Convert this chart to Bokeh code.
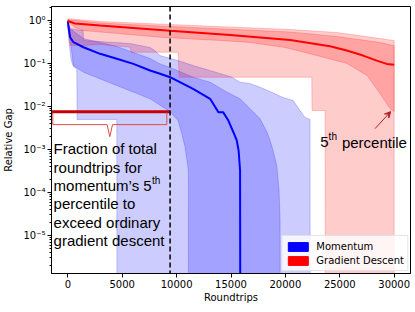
from bokeh.plotting import figure
from bokeh.models import (Range1d, FixedTicker, CustomJSTickFormatter, Legend, LegendItem,
                          Arrow, VeeHead, Span, ColumnDataSource)
from bokeh.core.properties import value
from bokeh.embed import file_html
from bokeh.resources import INLINE

FLOOR = 1e-12  # stands for "converged" (gap of zero on a log axis)

# ---------------- Momentum (blue) ----------------
mom_med_x = [0, 70, 160, 211, 515, 1434, 2968, 4503, 6029, 7563, 8482, 9401, 11515, 13078,
             13840, 14272, 14759, 15219, 15531, 15700, 15834, 15880]
mom_med_y = [0.95, 0.687, 0.499, 0.409, 0.313, 0.239, 0.168, 0.129, 0.098, 0.0687, 0.0576, 0.048,
             0.0258, 0.0151, 0.0074, 0.0074, 0.00472, 0.00252, 0.00162, 0.00095, 0.000325, FLOOR]

mom_p95_x = [0, 211, 671, 1434, 2968, 4503, 6029, 7563, 8482, 9401, 11515, 13078, 14640, 15834,
             16753, 17672, 18316, 18591, 18867, 19207, 19418, 19510, 19530]
mom_p95_y = [1.0, 0.641, 0.526, 0.381, 0.308, 0.249, 0.180, 0.131, 0.098, 0.0807, 0.048, 0.0367,
             0.0215, 0.0151, 0.00885, 0.00518, 0.00252, 0.00162, 0.00095, 0.000425, 0.000111,
             2.23e-5, FLOOR]

mom_p5_x = [0, 211, 515, 1434, 4503, 7563, 9401, 10137, 10477, 10780, 11083, 11101, 19530]
mom_p5_y = [1.0, 0.375, 0.0898, 0.0628, 0.0308, 0.0151, 0.0076, 0.00472, 0.00236, 0.00113,
            0.000325, FLOOR, FLOOR]

mom_max_x = [0, 211, 1406, 1450, 5725, 7563, 8000, 8482, 10137, 11515, 13078, 15099, 15834, 16753,
             17672, 18591, 19786, 20705, 21348, 21807, 22267, 22290]
mom_max_y = [1.0, 0.641, 0.585, 0.343, 0.292, 0.236, 0.2, 0.153, 0.117, 0.0898, 0.0687, 0.048,
             0.0367, 0.0343, 0.0281, 0.0223, 0.0162, 0.0138, 0.00807, 0.00555, 0.00499, FLOOR]

mom_min_x = [0, 28, 120, 300, 515, 827, 855, 4503, 4531, 22290]
mom_min_y = [1.0, 0.6, 0.3, 0.12, 0.085, 0.075, 0.005, 0.005, FLOOR, FLOOR]

# ---------------- Gradient descent (red) ----------------
gd_med_x = [0, 671, 2968, 9401, 14916, 20429, 24105, 25640, 27138, 28397, 29316, 30000]
gd_med_y = [0.973, 0.852, 0.765, 0.576, 0.46, 0.352, 0.252, 0.201, 0.153, 0.117, 0.098, 0.0933]

gd_p95_x = [0, 2968, 9401, 20429, 24749, 28700, 29894, 30000]
gd_p95_y = [1.05, 0.875, 0.725, 0.541, 0.425, 0.308, 0.262, 0.262]

gd_p5_x = [0, 671, 1406, 4531, 8482, 13996, 16753, 19970, 22543, 25668, 27505, 28700, 29619, 30000]
gd_p5_y = [0.948, 0.687, 0.585, 0.499, 0.409, 0.343, 0.308, 0.236, 0.162, 0.1, 0.0526, 0.0200,
           0.00898, 0.0076]

gd_max_x = [0, 2968, 9401, 20429, 24749, 28700, 29894, 30000]
gd_max_y = [1.10, 0.948, 0.807, 0.618, 0.526, 0.381, 0.343, 0.343]

gd_min_x = [0, 120, 211, 1406, 2968, 5725, 5817, 10137, 10229, 22424, 22450, 23646, 23690, 30000]
gd_min_y = [0.948, 0.343, 0.262, 0.262, 0.277, 0.239, 0.183, 0.183, 0.048, 0.048, 0.00807,
            0.00807, FLOOR, FLOOR]

# ---------------- annotation values ----------------
gd_p5_final = 0.0076      # final 5th percentile of gradient descent
crossover_x = 9400        # roundtrips where momentum's 5th percentile beats it
x_ticks = [0, 5000, 10000, 15000, 20000, 25000, 30000]
y_ticks = [1e-5, 1e-4, 1e-3, 1e-2, 1e-1, 1.0]
note_lines = ["Fraction of total", "roundtrips for", "momentum\u2019s 5", "percentile to",
              "exceed ordinary", "gradient descent"]
pct_label = ("5", "th", "percentile")
legend_labels = ["Momentum", "Gradient Descent"]
legend_colors = ["blue", "red"]

X0, X1 = -1500, 31500
PXD = 43.0  # pixels per decade on the y axis

p = figure(width=415, height=312, y_axis_type="log",
           x_range=Range1d(X0, X1), y_range=Range1d(10 ** -5.884, 10 ** 0.326),
           output_backend="svg", toolbar_location=None,
           min_border_left=51, min_border_right=5, min_border_top=6, min_border_bottom=39)
p.xgrid.visible = False
p.ygrid.visible = False
p.outline_line_color = "black"
p.outline_line_width = 1
p.background_fill_color = "white"
p.border_fill_color = "white"


def band(xu, yu, xl, yl, color):
    xs = list(xu) + list(reversed(xl))
    ys = list(yu) + list(reversed(yl))
    p.patch(xs, ys, fill_color=color, fill_alpha=0.2, line_color=color, line_alpha=0.2,
            line_width=1)


band(mom_max_x, mom_max_y, mom_min_x, mom_min_y, "blue")
band(mom_p95_x, mom_p95_y, mom_p5_x, mom_p5_y, "blue")
band(gd_max_x, gd_max_y, gd_min_x, gd_min_y, "red")
band(gd_p95_x, gd_p95_y, gd_p5_x, gd_p5_y, "red")

p.line(mom_med_x, mom_med_y, line_color="blue", line_width=2)
p.line(gd_med_x, gd_med_y, line_color="red", line_width=2)

# dashed crossover line
p.add_layout(Span(location=crossover_x, dimension="height", line_color="black",
                  line_dash="5 3", line_width=1.5))

# horizontal level of GD's final 5th percentile
p.line([X0, crossover_x], [gd_p5_final, gd_p5_final], line_color="#c80000", line_width=3)

# curly-bracket below that line
def down(v, px):
    return v * 10 ** (-px / PXD)

bl, br = X0 + 120, crossover_x - 300
mid = (bl + br) / 2
bx = [bl, bl, mid - 250, mid, mid + 250, br, br]
by = [down(gd_p5_final, 1), down(gd_p5_final, 13), down(gd_p5_final, 13), down(gd_p5_final, 25),
      down(gd_p5_final, 13), down(gd_p5_final, 13), down(gd_p5_final, 1)]
p.line(bx, by, line_color="#e04848", line_width=1)

# multi-line note
note_x = X0 + 190
note_src = ColumnDataSource(dict(
    x=[note_x] * len(note_lines),
    y=[gd_p5_final] * len(note_lines),
    t=note_lines,
    dy=[37.3 + 18.3 * i for i in range(len(note_lines))],
))
p.text(x="x", y="y", text="t", y_offset="dy", source=note_src,
       text_font=value("Liberation Sans"), text_font_size="15px", text_color="black",
       text_align="left", text_baseline="alphabetic")
p.text(x=[note_x], y=[gd_p5_final], text=["th"], x_offset=98.5, y_offset=37.3 + 18.3 * 2 - 5.5,
       text_font=value("Liberation Sans"), text_font_size="10px", text_color="black",
       text_align="left", text_baseline="alphabetic")

# "5th percentile" label and arrow
lab_x, lab_y = 23200, down(gd_p5_final, 30.7)
p.text(x=[lab_x], y=[lab_y], text=[pct_label[0]], text_font=value("Liberation Sans"),
       text_font_size="15px", text_color="black", text_align="left", text_baseline="alphabetic")
p.text(x=[lab_x], y=[lab_y], text=[pct_label[1]], x_offset=8.4, y_offset=-5.5,
       text_font=value("Liberation Sans"), text_font_size="10px", text_color="black",
       text_align="left", text_baseline="alphabetic")
p.text(x=[lab_x], y=[lab_y], text=[pct_label[2]], x_offset=21.7,
       text_font=value("Liberation Sans"), text_font_size="15px", text_color="black",
       text_align="left", text_baseline="alphabetic")
p.add_layout(Arrow(x_start=28240, y_start=down(gd_p5_final, 17), x_end=29680, y_end=gd_p5_final,
                   line_color="#b02020", line_width=1,
                   end=VeeHead(size=6, fill_color="#b02020", line_color="#b02020")))

# legend proxies: one swatch each, parked outside the visible x range
proxies = []
for c in legend_colors:
    proxies.append(p.quad(left=[X1 * 10], right=[X1 * 10 + 1], top=[1.0], bottom=[0.5],
                          fill_color=c, line_color=c))
leg = Legend(items=[LegendItem(label=lab, renderers=[r]) for lab, r in zip(legend_labels, proxies)],
             location="bottom_right", margin=2, padding=3, spacing=0,
             glyph_width=25, glyph_height=11, label_height=14, label_standoff=6,
             label_text_font="DejaVu Sans", label_text_font_size="10px",
             label_text_color="black", background_fill_alpha=0.8,
             border_line_color="#cccccc", border_line_width=1)
p.add_layout(leg)

# axes
p.xaxis.ticker = FixedTicker(ticks=x_ticks)
p.xaxis.minor_tick_line_color = None
minor = [m * 10.0 ** e for e in range(-6, 1) for m in range(2, 10)]
p.yaxis.ticker = FixedTicker(ticks=y_ticks, minor_ticks=minor)
p.yaxis.formatter = CustomJSTickFormatter(code="""
const sup = {'-':'\u207b','0':'\u2070','1':'\u00b9','2':'\u00b2','3':'\u00b3','4':'\u2074',
             '5':'\u2075','6':'\u2076','7':'\u2077','8':'\u2078','9':'\u2079'};
const e = Math.round(Math.log10(tick));
return '10' + String(e).split('').map(c => sup[c]).join('');
""")
for ax in (p.xaxis[0], p.yaxis[0]):
    ax.axis_line_color = "black"
    ax.major_tick_line_color = "black"
    ax.major_tick_out = 4
    ax.major_tick_in = 0
    ax.minor_tick_out = 2
    ax.minor_tick_in = 0
    ax.major_label_text_font = "DejaVu Sans"
    ax.major_label_text_font_size = "10px"
    ax.major_label_text_color = "black"
    ax.major_label_standoff = 2
    ax.axis_label_text_font = "DejaVu Sans"
    ax.axis_label_text_font_size = "10px"
    ax.axis_label_text_font_style = "normal"
    ax.axis_label_text_color = "black"
p.xaxis.axis_label_standoff = 1
p.yaxis.axis_label_standoff = 6
p.xaxis.axis_label = "Roundtrips"
p.yaxis.axis_label = "Relative Gap"

open("out.html", "w").write(file_html(p, INLINE))
